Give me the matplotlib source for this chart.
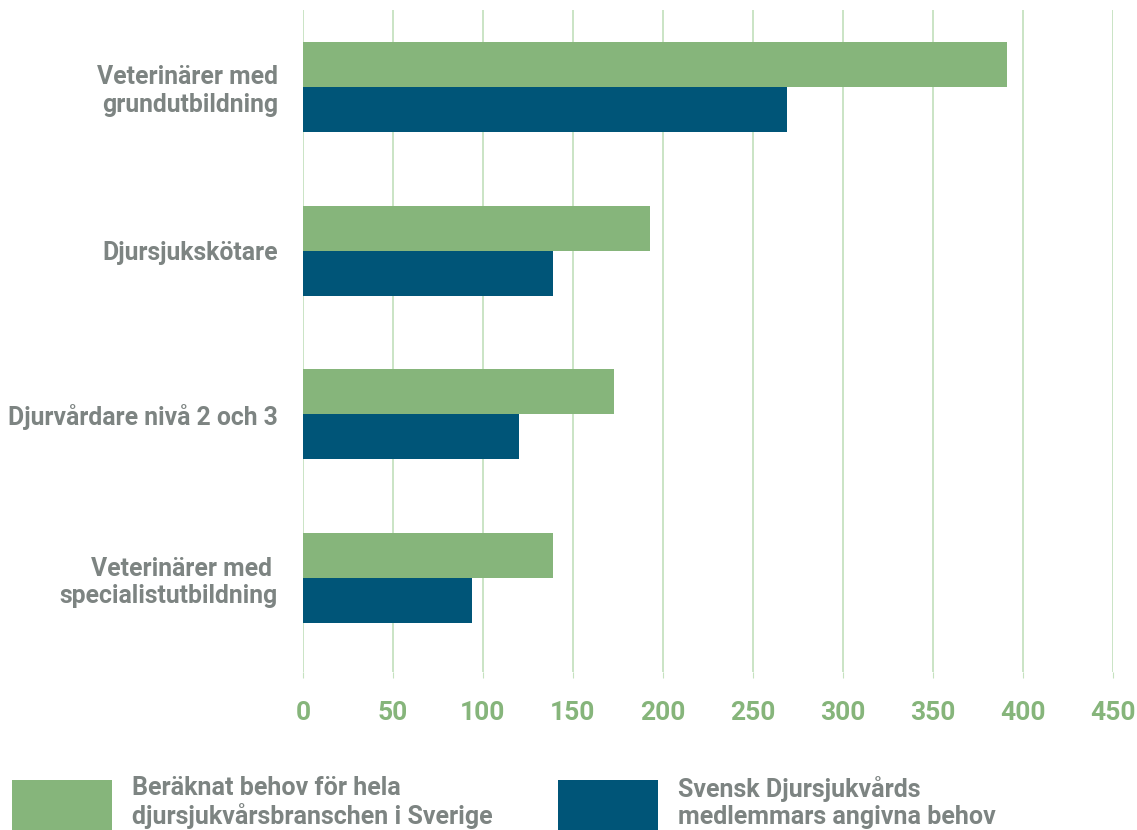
import numpy as np
import matplotlib.pyplot as plt

# Data
categories = [
    "Veterinärer med\ngrundutbildning",
    "Djursjukskötare",
    "Djurvårdare nivå 2 och 3",
    "Veterinärer med \nspecialistutbildning",
]
branschen = [391, 193, 173, 139]
medlemmar = [269, 139, 120, 94]
series_labels = [
    "Beräknat behov för hela\ndjursjukvårsbranschen i Sverige",
    "Svensk Djursjukvårds\nmedlemmars angivna behov",
]
xticks = [0, 50, 100, 150, 200, 250, 300, 350, 400, 450]

green = "#86b57b"
blue = "#005578"
gray = "#7d8482"
grid_green = "#c6e2c0"

plt.rcParams['font.family'] = ['Roboto', 'DejaVu Sans']

fig = plt.figure(figsize=(11.37, 8.3), dpi=100)
ax = fig.add_axes([303 / 1137, 1 - 672 / 830, (1113 - 303) / 1137, 662 / 830])

y = np.arange(len(categories))
h = 0.275
ax.barh(y - h / 2, branschen, height=h, color=green, label=series_labels[0], zorder=3)
ax.barh(y + h / 2, medlemmar, height=h, color=blue, label=series_labels[1], zorder=3)

ax.set_xlim(0, 450)
ax.set_ylim(3.574, -0.47)
ax.set_xticks(xticks)
ax.set_xticklabels([str(t) for t in xticks], color=green, fontsize=19, fontweight='bold')
ax.set_yticks(y)
ax.set_yticklabels(categories, color=gray, fontsize=17.8, fontweight='bold', ha='right')
ax.tick_params(axis='y', length=0, pad=18)
ax.tick_params(axis='x', length=4, color=grid_green, pad=17)

ax.grid(axis='x', color=grid_green, linewidth=1.3, zorder=0)
for s in ax.spines.values():
    s.set_visible(False)

leg = ax.legend(loc='upper left', bbox_to_anchor=(12 / 1137, 1 - 776 / 830),
                bbox_transform=fig.transFigure, ncol=2, frameon=False,
                fontsize=18, handlelength=4.0, handleheight=2.7,
                handletextpad=0.8, columnspacing=2.6, borderaxespad=0,
                borderpad=0, labelspacing=0)
for t in leg.get_texts():
    t.set_color(gray)
    t.set_fontweight('bold')
    t.set_linespacing(1.15)

fig.savefig("out.png", dpi=100)
